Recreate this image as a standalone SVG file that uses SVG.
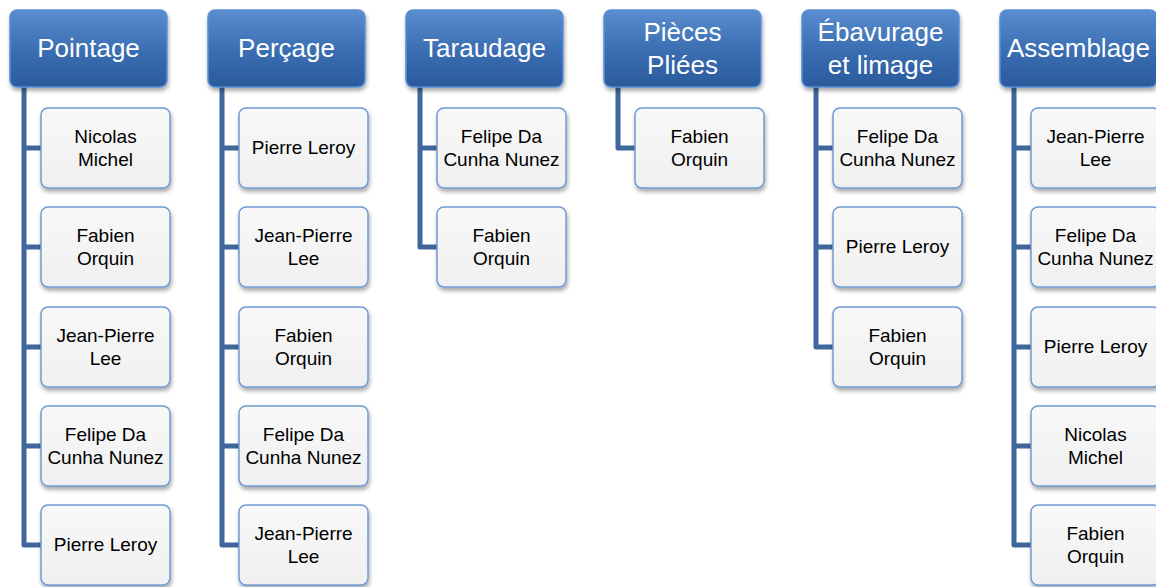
<svg xmlns="http://www.w3.org/2000/svg" width="1156" height="587" viewBox="0 0 1156 587">
<defs>
<linearGradient id="hg" x1="0" y1="0" x2="0" y2="1">
<stop offset="0" stop-color="#5a8ed0"/>
<stop offset="0.5" stop-color="#3b6fb3"/>
<stop offset="1" stop-color="#2a5a9c"/>
</linearGradient>
<linearGradient id="cg" x1="0" y1="0" x2="0" y2="1">
<stop offset="0" stop-color="#f8f8f8"/>
<stop offset="1" stop-color="#f0f0f0"/>
</linearGradient>
<filter id="sh" x="-10%" y="-10%" width="125%" height="130%">
<feGaussianBlur in="SourceAlpha" stdDeviation="2"/>
<feOffset dx="1" dy="3" result="b"/>
<feComponentTransfer><feFuncA type="linear" slope="0.35"/></feComponentTransfer>
<feMerge><feMergeNode/><feMergeNode in="SourceGraphic"/></feMerge>
</filter>
</defs>
<style>
.h rect{fill:url(#hg);stroke:#5b8fd4;stroke-width:1.5;filter:url(#sh)}
.h text{font-family:"Liberation Sans",Arial,sans-serif;font-size:26px;fill:#ffffff;text-anchor:middle}
.c rect{fill:url(#cg);stroke:#6f9ad3;stroke-width:1.5;filter:url(#sh)}
.c text{font-family:"Liberation Sans",Arial,sans-serif;font-size:19px;fill:#000000;text-anchor:middle}
.con path{fill:none;stroke:#3f679b;stroke-width:5;stroke-linejoin:round}
</style>
<g class="con">
<path d="M24,87 V545 H41 M24,148 H41 M24,247 H41 M24,347 H41 M24,446 H41"/>
<path d="M222,87 V545 H239 M222,148 H239 M222,247 H239 M222,347 H239 M222,446 H239"/>
<path d="M420,87 V247 H437 M420,148 H437"/>
<path d="M618,87 V148 H635"/>
<path d="M816,87 V347 H833 M816,148 H833 M816,247 H833"/>
<path d="M1014,87 V545 H1031 M1014,148 H1031 M1014,247 H1031 M1014,347 H1031 M1014,446 H1031"/>
</g>
<g id="h1" class="h"><rect x="10" y="10" width="157" height="77" rx="7"/><text x="88.5" y="57">Pointage</text></g>
<g id="h2" class="h"><rect x="208" y="10" width="157" height="77" rx="7"/><text x="286.5" y="57">Perçage</text></g>
<g id="h3" class="h"><rect x="406" y="10" width="157" height="77" rx="7"/><text x="484.5" y="57">Taraudage</text></g>
<g id="h4" class="h"><rect x="604" y="10" width="157" height="77" rx="7"/><text x="682.5" y="41">Pièces</text><text x="682.5" y="74">Pliées</text></g>
<g id="h5" class="h"><rect x="802" y="10" width="157" height="77" rx="7"/><text x="880.5" y="41">Ébavurage</text><text x="880.5" y="74">et limage</text></g>
<g id="h6" class="h"><rect x="1000" y="10" width="157" height="77" rx="7"/><text x="1078.5" y="57">Assemblage</text></g>

<g id="c1a" class="c"><rect x="41" y="108" width="129" height="80" rx="7"/><text x="105.5" y="143">Nicolas</text><text x="105.5" y="166">Michel</text></g>
<g id="c1b" class="c"><rect x="41" y="207" width="129" height="80" rx="7"/><text x="105.5" y="242">Fabien</text><text x="105.5" y="265">Orquin</text></g>
<g id="c1c" class="c"><rect x="41" y="307" width="129" height="80" rx="7"/><text x="105.5" y="342">Jean-Pierre</text><text x="105.5" y="365">Lee</text></g>
<g id="c1d" class="c"><rect x="41" y="406" width="129" height="80" rx="7"/><text x="105.5" y="441">Felipe Da</text><text x="105.5" y="464">Cunha Nunez</text></g>
<g id="c1e" class="c"><rect x="41" y="505" width="129" height="80" rx="7"/><text x="105.5" y="551">Pierre Leroy</text></g>

<g id="c2a" class="c"><rect x="239" y="108" width="129" height="80" rx="7"/><text x="303.5" y="154">Pierre Leroy</text></g>
<g id="c2b" class="c"><rect x="239" y="207" width="129" height="80" rx="7"/><text x="303.5" y="242">Jean-Pierre</text><text x="303.5" y="265">Lee</text></g>
<g id="c2c" class="c"><rect x="239" y="307" width="129" height="80" rx="7"/><text x="303.5" y="342">Fabien</text><text x="303.5" y="365">Orquin</text></g>
<g id="c2d" class="c"><rect x="239" y="406" width="129" height="80" rx="7"/><text x="303.5" y="441">Felipe Da</text><text x="303.5" y="464">Cunha Nunez</text></g>
<g id="c2e" class="c"><rect x="239" y="505" width="129" height="80" rx="7"/><text x="303.5" y="540">Jean-Pierre</text><text x="303.5" y="563">Lee</text></g>

<g id="c3a" class="c"><rect x="437" y="108" width="129" height="80" rx="7"/><text x="501.5" y="143">Felipe Da</text><text x="501.5" y="166">Cunha Nunez</text></g>
<g id="c3b" class="c"><rect x="437" y="207" width="129" height="80" rx="7"/><text x="501.5" y="242">Fabien</text><text x="501.5" y="265">Orquin</text></g>

<g id="c4a" class="c"><rect x="635" y="108" width="129" height="80" rx="7"/><text x="699.5" y="143">Fabien</text><text x="699.5" y="166">Orquin</text></g>

<g id="c5a" class="c"><rect x="833" y="108" width="129" height="80" rx="7"/><text x="897.5" y="143">Felipe Da</text><text x="897.5" y="166">Cunha Nunez</text></g>
<g id="c5b" class="c"><rect x="833" y="207" width="129" height="80" rx="7"/><text x="897.5" y="253">Pierre Leroy</text></g>
<g id="c5c" class="c"><rect x="833" y="307" width="129" height="80" rx="7"/><text x="897.5" y="342">Fabien</text><text x="897.5" y="365">Orquin</text></g>

<g id="c6a" class="c"><rect x="1031" y="108" width="129" height="80" rx="7"/><text x="1095.5" y="143">Jean-Pierre</text><text x="1095.5" y="166">Lee</text></g>
<g id="c6b" class="c"><rect x="1031" y="207" width="129" height="80" rx="7"/><text x="1095.5" y="242">Felipe Da</text><text x="1095.5" y="265">Cunha Nunez</text></g>
<g id="c6c" class="c"><rect x="1031" y="307" width="129" height="80" rx="7"/><text x="1095.5" y="353">Pierre Leroy</text></g>
<g id="c6d" class="c"><rect x="1031" y="406" width="129" height="80" rx="7"/><text x="1095.5" y="441">Nicolas</text><text x="1095.5" y="464">Michel</text></g>
<g id="c6e" class="c"><rect x="1031" y="505" width="129" height="80" rx="7"/><text x="1095.5" y="540">Fabien</text><text x="1095.5" y="563">Orquin</text></g>
</svg>
